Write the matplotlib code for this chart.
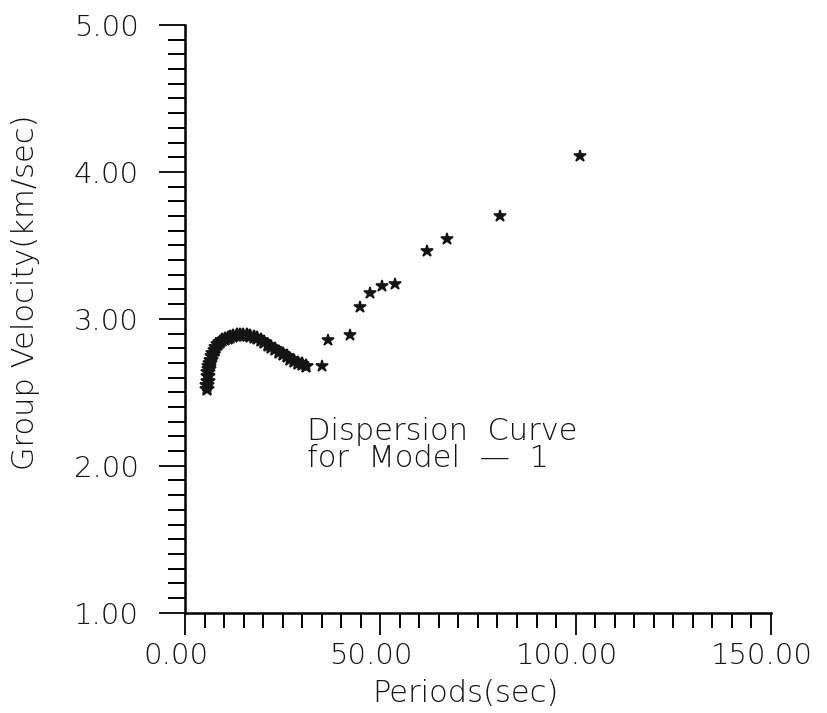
import matplotlib
matplotlib.use("Agg")
import matplotlib.pyplot as plt
from matplotlib.ticker import MultipleLocator, FormatStrFormatter
from matplotlib.transforms import ScaledTranslation

# thin lettering, like the plotter font of the original
plt.rcParams["font.family"] = ["DejaVu Sans"]
plt.rcParams["font.weight"] = "light"
plt.rcParams["axes.labelweight"] = "light"

# dense part of the dispersion curve (period in sec, group velocity in km/sec)
curvePeriods = [5.6, 5.7, 5.8, 5.9, 6.0, 6.1, 6.2, 6.4, 6.6, 6.9, 7.2, 7.6, 8.0, 8.5,
                9.0, 9.6, 10.2, 10.9, 11.6, 12.4, 13.2, 14.0, 14.9, 15.8, 16.7, 17.6,
                18.5, 19.4, 20.3, 21.2, 22.1, 23.0, 24.0, 25.0, 26.0, 27.0, 28.0, 29.0,
                30.0, 31.0]
curveVelocity = [2.52, 2.55, 2.58, 2.61, 2.64, 2.66, 2.68, 2.70, 2.72, 2.745, 2.77, 2.79,
                 2.81, 2.83, 2.845, 2.855, 2.865, 2.872, 2.878, 2.884, 2.888, 2.89, 2.891,
                 2.889, 2.885, 2.878, 2.868, 2.855, 2.84, 2.824, 2.808, 2.792, 2.776,
                 2.76, 2.744, 2.728, 2.712, 2.70, 2.69, 2.68]

# the sparse points at the longer periods
longPeriods = [35.0, 36.7, 42.2, 44.9, 47.4, 50.4, 53.7, 61.9, 67.1, 80.6, 101.1]
longVelocity = [2.68, 2.856, 2.893, 3.078, 3.176, 3.223, 3.237, 3.462, 3.543, 3.70, 4.108]

fig = plt.figure(figsize=(8.28, 7.13), dpi=100)
ax = fig.add_axes([0.2234, 0.1407, 0.7077, 0.8243])

ink = "#141414"
# star markers, fattened a bit with an edge so they look like the plotted asterisks
ax.plot(curvePeriods, curveVelocity, linestyle="none", marker="*", markersize=10,
        markeredgewidth=1.3, color=ink)
ax.plot(longPeriods, longVelocity, linestyle="none", marker="*", markersize=9,
        markeredgewidth=1.2, color=ink)

ax.set_xlim(0, 150)
ax.set_ylim(1, 5)

# only the left and bottom axis lines are drawn
ax.spines["top"].set_visible(False)
ax.spines["right"].set_visible(False)
ax.spines["left"].set_linewidth(1.8)
ax.spines["bottom"].set_linewidth(1.8)

ax.xaxis.set_major_locator(MultipleLocator(50))
ax.xaxis.set_minor_locator(MultipleLocator(5))
ax.yaxis.set_major_locator(MultipleLocator(1))
ax.yaxis.set_minor_locator(MultipleLocator(0.1))
ax.xaxis.set_major_formatter(FormatStrFormatter("%.2f"))
ax.yaxis.set_major_formatter(FormatStrFormatter("%.2f"))

ax.tick_params(axis="x", which="major", direction="out", length=16, width=1.4, pad=5,
               labelsize=21, colors=ink)
ax.tick_params(axis="x", which="minor", direction="out", length=11, width=1.4)
ax.tick_params(axis="y", which="major", direction="out", length=19, width=1.4, pad=14,
               labelsize=21, colors=ink)
ax.tick_params(axis="y", which="minor", direction="out", length=12, width=1.4)

# the x labels sit with the decimal point on the tick
shift = ScaledTranslation(-9 / 100, 0, fig.dpi_scale_trans)
for lbl in ax.get_xticklabels():
    lbl.set_transform(lbl.get_transform() + shift)

ax.set_xlabel("Periods(sec)", fontsize=22, color=ink)
ax.set_ylabel("Group Velocity(km/sec)", fontsize=22, color=ink)
ax.xaxis.set_label_coords(0.478, -0.112)
ax.yaxis.set_label_coords(-0.247, 0.546)

ax.text(31.2, 2.335, "Dispersion  Curve\nfor  Model  \u2014  1", fontsize=22, color=ink,
        va="top", ha="left", linespacing=0.95)

fig.savefig("out.png", dpi=100)
